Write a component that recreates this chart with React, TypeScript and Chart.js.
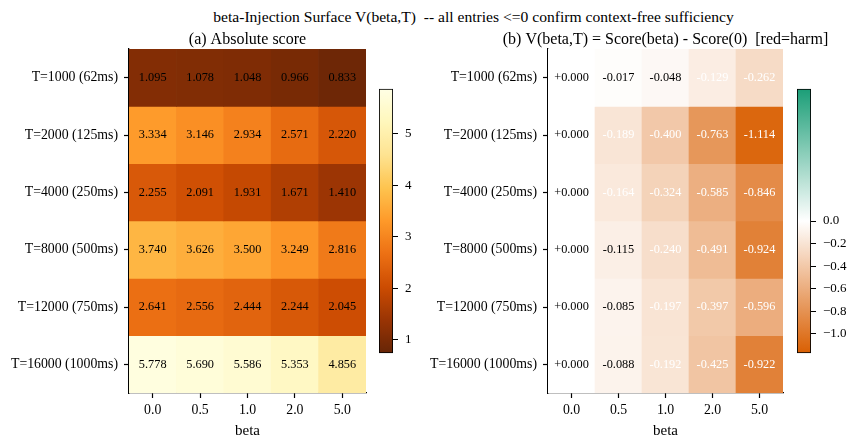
import React, { useEffect, useRef } from 'react';
import { Chart, registerables } from 'chart.js';

Chart.register(...registerables);

const FONT = "'Liberation Serif', 'Times New Roman', Times, serif";

// ---- data ----
const betaLabels = ['0.0', '0.5', '1.0', '2.0', '5.0'];
const rowLabels = [
  'T=1000 (62ms)',
  'T=2000 (125ms)',
  'T=4000 (250ms)',
  'T=8000 (500ms)',
  'T=12000 (750ms)',
  'T=16000 (1000ms)',
];

const scoreT1000 = [1.095, 1.078, 1.048, 0.966, 0.833];
const scoreT2000 = [3.334, 3.146, 2.934, 2.571, 2.22];
const scoreT4000 = [2.255, 2.091, 1.931, 1.671, 1.41];
const scoreT8000 = [3.74, 3.626, 3.5, 3.249, 2.816];
const scoreT12000 = [2.641, 2.556, 2.444, 2.244, 2.045];
const scoreT16000 = [5.778, 5.69, 5.586, 5.353, 4.856];

const deltaT1000 = [0.0, -0.017, -0.048, -0.129, -0.262];
const deltaT2000 = [0.0, -0.189, -0.4, -0.763, -1.114];
const deltaT4000 = [0.0, -0.164, -0.324, -0.585, -0.846];
const deltaT8000 = [0.0, -0.115, -0.24, -0.491, -0.924];
const deltaT12000 = [0.0, -0.085, -0.197, -0.397, -0.596];
const deltaT16000 = [0.0, -0.088, -0.192, -0.425, -0.922];

const scoreRows = [scoreT1000, scoreT2000, scoreT4000, scoreT8000, scoreT12000, scoreT16000];
const deltaRows = [deltaT1000, deltaT2000, deltaT4000, deltaT8000, deltaT12000, deltaT16000];

const scoreTicks = [1, 2, 3, 4, 5];
const deltaTicks = [0, -0.2, -0.4, -0.6, -0.8, -1.0];

const scoreMin = 0.733;
const scoreMax = 5.878;
const deltaLimit = 1.17;

// ---- colour maps ----
type RGB = number[];
const YLORBR: RGB[] = [
  [255, 255, 229], [255, 247, 188], [254, 227, 145], [254, 196, 79], [254, 153, 41],
  [236, 112, 20], [204, 76, 2], [153, 52, 4], [102, 37, 6],
];
const DIVERGING: RGB[] = [[217, 95, 2], [255, 255, 255], [27, 158, 119]];

function lerpStops(stops: RGB[], t: number): RGB {
  const tt = Math.max(0, Math.min(1, t));
  const n = stops.length - 1;
  const p = tt * n;
  const i = Math.min(Math.floor(p), n - 1);
  const f = p - i;
  const a = stops[i];
  const b = stops[i + 1];
  return a.map((c, k) => Math.round(c + (b[k] - c) * f));
}
const rgb = (c: RGB) => `rgb(${c[0]},${c[1]},${c[2]})`;

const scoreColor = (v: number) => rgb(lerpStops(YLORBR, 1 - (v - scoreMin) / (scoreMax - scoreMin)));
const deltaColor = (v: number) => rgb(lerpStops(DIVERGING, (v + deltaLimit) / (2 * deltaLimit)));

const GRID = 'rgba(176,176,176,0.4)';

// ---- heatmap ----
type HeatProps = {
  left: number;
  width: number;
  plotLeft: number;
  plotRight: number;
  title: string;
  rows: number[][];
  colorOf: (v: number) => string;
  textOf: (v: number) => string;
  textColorOf: (v: number) => string;
};

function Heatmap(props: HeatProps) {
  const ref = useRef<HTMLCanvasElement>(null);
  useEffect(() => {
    const { left, width, plotLeft, plotRight, title, rows, colorOf, textOf, textColorOf } = props;
    const yWidth = plotLeft - left;
    const padRight = left + width - plotRight;
    const labelPlugin = {
      id: 'cellLabels',
      afterDraw(chart: any) {
        const ctx = chart.ctx;
        ctx.save();
        ctx.font = `12.3px ${FONT}`;
        ctx.textAlign = 'center';
        ctx.textBaseline = 'middle';
        rows.forEach((row, r) => {
          const meta = chart.getDatasetMeta(r);
          meta.data.forEach((bar: any, c: number) => {
            const v = row[c];
            ctx.fillStyle = textColorOf(v);
            ctx.fillText(textOf(v), bar.x, (bar.y + bar.base) / 2);
          });
        });
        const a = chart.chartArea;
        ctx.fillStyle = '#000';
        ctx.font = `16px ${FONT}`;
        ctx.textBaseline = 'middle';
        ctx.fillText(title, (a.left + a.right) / 2, 40);
        ctx.restore();
      },
    };
    const chart = new Chart(ref.current as HTMLCanvasElement, {
      type: 'bar',
      data: {
        labels: betaLabels,
        datasets: rows.map((row, r) => ({
          label: rowLabels[r],
          data: row.map(() => [r - 0.5, r + 0.5]),
          backgroundColor: row.map(colorOf),
          borderWidth: 0,
          grouped: false,
          barPercentage: 1,
          categoryPercentage: 1,
        })) as any,
      },
      options: {
        responsive: false,
        animation: false,
        events: [],
        layout: { padding: { top: 49, right: padRight, left: 0, bottom: 0 } },
        plugins: { legend: { display: false }, tooltip: { enabled: false }, title: { display: false } },
        scales: {
          x: {
            type: 'category',
            offset: true,
            z: 1,
            grid: { offset: false, color: GRID, lineWidth: 1, drawTicks: true, tickLength: 5, tickColor: '#000', tickWidth: 1.2 },
            border: { display: true, color: '#000', width: 1.3 },
            ticks: { color: '#000', font: { family: FONT, size: 13.8 }, padding: 4, maxRotation: 0 },
            title: { display: true, text: 'beta', color: '#000', font: { family: FONT, size: 15 }, padding: { top: 0, bottom: 0 } },
            afterFit: (s: any) => { s.height = 47; },
          },
          y: {
            type: 'linear',
            min: -0.5,
            max: 5.5,
            reverse: true,
            z: 1,
            afterBuildTicks: (s: any) => { s.ticks = rowLabels.map((_, i) => ({ value: i })); },
            grid: { color: GRID, lineWidth: 1, drawTicks: true, tickLength: 5, tickColor: '#000', tickWidth: 1.2 },
            border: { display: true, color: '#000', width: 1.3 },
            ticks: {
              color: '#000',
              font: { family: FONT, size: 13.8 },
              padding: 6,
              callback: (v: any) => rowLabels[Math.round(Number(v))] ?? '',
            },
            afterFit: (s: any) => { s.width = yWidth; },
          },
        },
      } as any,
      plugins: [labelPlugin],
    });
    return () => chart.destroy();
  }, []);
  return (
    <canvas
      ref={ref}
      width={props.width}
      height={440}
      style={{ position: 'absolute', left: props.left, top: 0, width: props.width, height: 440 }}
    />
  );
}

// ---- colour bar ----
type BarProps = {
  left: number;
  width: number;
  top: number;
  bottom: number;
  min: number;
  max: number;
  ticks: number[];
  tickText: (v: number) => string;
  colorOf: (v: number) => string;
};

function ColorBar(props: BarProps) {
  const ref = useRef<HTMLCanvasElement>(null);
  const pad = 10;
  const height = props.bottom - props.top + 2 * pad;
  useEffect(() => {
    const { width, min, max, ticks, tickText, colorOf } = props;
    const barW = 14;
    const chart = new Chart(ref.current as HTMLCanvasElement, {
      type: 'bar',
      data: {
        labels: [''],
        datasets: [
          {
            data: [[min, max]],
            backgroundColor: (c: any) => {
              const ch = c.chart;
              const ys = ch.scales.y;
              if (!ch.chartArea || !ys) return 'rgba(0,0,0,0)';
              const y0 = ys.getPixelForValue(min);
              const y1 = ys.getPixelForValue(max);
              const g = ch.ctx.createLinearGradient(0, y0, 0, y1);
              const n = 40;
              for (let i = 0; i <= n; i++) {
                g.addColorStop(i / n, colorOf(min + ((max - min) * i) / n));
              }
              return g;
            },
            borderColor: '#000',
            borderWidth: 1.2,
            borderSkipped: false,
            barPercentage: 1,
            categoryPercentage: 1,
          },
        ] as any,
      },
      options: {
        responsive: false,
        animation: false,
        events: [],
        layout: { padding: { top: pad, bottom: pad, left: 0, right: 0 } },
        plugins: { legend: { display: false }, tooltip: { enabled: false } },
        scales: {
          x: { display: false },
          y: {
            type: 'linear',
            position: 'right',
            min,
            max,
            afterBuildTicks: (s: any) => { s.ticks = ticks.map((v) => ({ value: v })); },
            grid: { drawOnChartArea: false, drawTicks: true, tickLength: 5, tickColor: '#000', tickWidth: 1 },
            border: { display: false },
            ticks: {
              color: '#000',
              font: { family: FONT, size: 13 },
              padding: 7,
              callback: (v: any) => tickText(Number(v)),
            },
            afterFit: (s: any) => { s.width = width - barW; },
          },
        },
      } as any,
    });
    return () => chart.destroy();
  }, []);
  return (
    <canvas
      ref={ref}
      width={props.width}
      height={height}
      style={{ position: 'absolute', left: props.left, top: props.top - pad, width: props.width, height }}
    />
  );
}

export default function App() {
  return (
    <div style={{ position: 'absolute', left: 0, top: 0, width: 849, height: 440, background: '#fff', overflow: 'hidden' }}>
      <div
        style={{
          position: 'absolute',
          left: 473.5,
          top: 8,
          transform: 'translateX(-50%)',
          whiteSpace: 'pre',
          fontFamily: FONT,
          fontSize: 15.6,
          lineHeight: '18px',
          color: '#000',
        }}
      >
        {'beta-Injection Surface V(beta,T)  -- all entries <=0 confirm context-free sufficiency'}
      </div>
      <Heatmap
        left={0}
        width={372}
        plotLeft={129}
        plotRight={366}
        title="(a) Absolute score"
        rows={scoreRows}
        colorOf={scoreColor}
        textOf={(v) => v.toFixed(3)}
        textColorOf={() => '#000'}
      />
      <Heatmap
        left={420}
        width={429}
        plotLeft={548}
        plotRight={783}
        title="(b) V(beta,T) = Score(beta) - Score(0)  [red=harm]"
        rows={deltaRows}
        colorOf={deltaColor}
        textOf={(v) => (v === 0 ? '+0.000' : v.toFixed(3))}
        textColorOf={(v) => (Math.abs(v) > 0.12 ? '#fff' : '#000')}
      />
      <ColorBar
        left={379}
        width={50}
        top={84}
        bottom={358}
        min={scoreMin}
        max={scoreMax}
        ticks={scoreTicks}
        tickText={(v) => String(v)}
        colorOf={(v) => scoreColor(v)}
      />
      <ColorBar
        left={797}
        width={52}
        top={84}
        bottom={358}
        min={-deltaLimit}
        max={deltaLimit}
        ticks={deltaTicks}
        tickText={(v) => (v === 0 ? '0.0' : '\u2212' + Math.abs(v).toFixed(1))}
        colorOf={(v) => deltaColor(v)}
      />
    </div>
  );
}
